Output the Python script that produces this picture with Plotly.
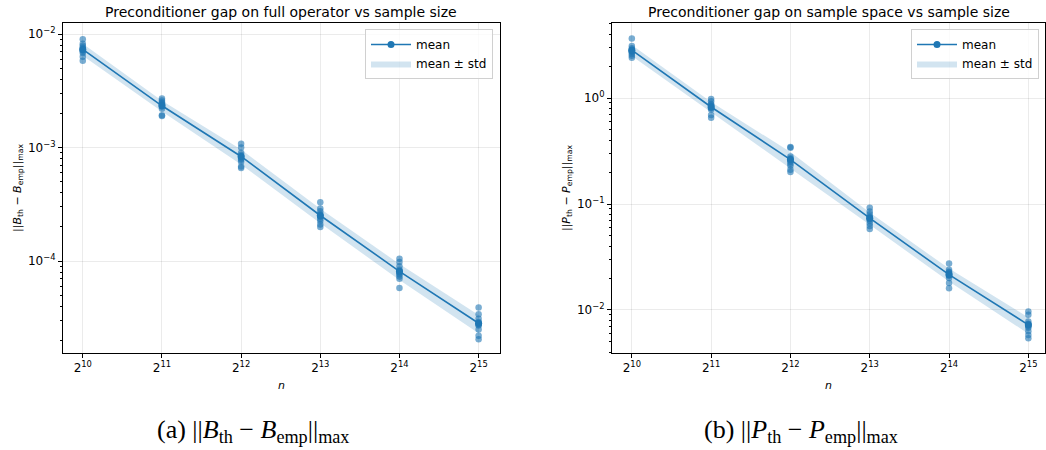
import numpy as np
import plotly.graph_objects as go

# sample sizes (powers of two)
exponents = [10, 11, 12, 13, 14, 15]
n_values = [2 ** e for e in exponents]
x_ticktext = [f"2<sup>{e}</sup>" for e in exponents]

# per-trial gaps ||B_th - B_emp||_max on the full operator
gap_full = [
    [9.0e-3, 8.2e-3, 7.9e-3, 7.6e-3, 7.4e-3, 7.2e-3, 7.0e-3, 6.8e-3, 6.3e-3, 5.8e-3],
    [2.7e-3, 2.6e-3, 2.5e-3, 2.45e-3, 2.4e-3, 2.35e-3, 2.3e-3, 2.2e-3, 1.92e-3, 1.9e-3],
    [1.08e-3, 1.0e-3, 9.0e-4, 8.6e-4, 8.3e-4, 8.0e-4, 7.8e-4, 7.5e-4, 6.8e-4, 6.6e-4],
    [3.3e-4, 2.9e-4, 2.75e-4, 2.6e-4, 2.5e-4, 2.45e-4, 2.35e-4, 2.25e-4, 2.1e-4, 2.0e-4],
    [1.05e-4, 9.8e-5, 9.0e-5, 8.4e-5, 8.0e-5, 7.8e-5, 7.6e-5, 7.3e-5, 7.0e-5, 5.8e-5],
    [3.9e-5, 3.4e-5, 3.1e-5, 2.9e-5, 2.8e-5, 2.75e-5, 2.7e-5, 2.5e-5, 2.2e-5, 2.05e-5],
]

# per-trial gaps ||P_th - P_emp||_max on the sample space
gap_sample = [
    [3.65, 3.1, 2.95, 2.85, 2.8, 2.75, 2.7, 2.6, 2.5, 2.4],
    [0.98, 0.93, 0.88, 0.86, 0.84, 0.82, 0.80, 0.78, 0.69, 0.65],
    [0.345, 0.34, 0.28, 0.27, 0.26, 0.25, 0.24, 0.23, 0.21, 0.20],
    [0.092, 0.085, 0.08, 0.076, 0.074, 0.072, 0.07, 0.066, 0.062, 0.058],
    [0.0275, 0.024, 0.023, 0.0225, 0.022, 0.0215, 0.021, 0.020, 0.018, 0.016],
    [0.0097, 0.009, 0.0078, 0.0074, 0.0072, 0.007, 0.0068, 0.0063, 0.0058, 0.0054],
]

full_yticks = [1e-4, 1e-3, 1e-2]
full_yticktext = ["10<sup>−4</sup>", "10<sup>−3</sup>", "10<sup>−2</sup>"]
sample_yticks = [1e-2, 1e-1, 1e0]
sample_yticktext = ["10<sup>−2</sup>", "10<sup>−1</sup>", "10<sup>0</sup>"]

BLUE = "#1f77b4"
BAND = "rgba(31,119,180,0.2)"
DOT = "rgba(31,119,180,0.6)"


def minor_log_ticks(lo_exp, hi_exp):
    return [m * 10.0 ** k for k in range(lo_exp, hi_exp + 1) for m in range(2, 10)]


fig = go.Figure()


def add_panel(gaps, xa, ya, legend_name):
    arr = np.array(gaps)
    mean = arr.mean(axis=1)
    std = arr.std(axis=1)
    # band: mean ± std
    fig.add_trace(go.Scatter(x=n_values, y=mean + std, mode="lines",
                             line=dict(width=0), showlegend=False,
                             xaxis=xa, yaxis=ya, hoverinfo="skip"))
    fig.add_trace(go.Scatter(x=n_values, y=mean - std, mode="lines",
                             line=dict(width=0), fill="tonexty", fillcolor=BAND,
                             name="mean ± std", legend=legend_name,
                             xaxis=xa, yaxis=ya))
    # individual trials
    xs = [n for n, row in zip(n_values, gaps) for _ in row]
    ys = [v for row in gaps for v in row]
    fig.add_trace(go.Scatter(x=xs, y=ys, mode="markers",
                             marker=dict(size=6.5, color=DOT, line=dict(width=0)),
                             showlegend=False, xaxis=xa, yaxis=ya))
    # mean curve
    fig.add_trace(go.Scatter(x=n_values, y=mean, mode="lines+markers",
                             line=dict(color=BLUE, width=1.6),
                             marker=dict(size=7, color=BLUE),
                             name="mean", legend=legend_name,
                             xaxis=xa, yaxis=ya))


add_panel(gap_full, "x", "y", "legend")
add_panel(gap_sample, "x2", "y2", "legend2")

axis_common = dict(
    showline=True, linecolor="black", linewidth=1, mirror=True,
    ticks="outside", ticklen=4, tickcolor="black",
    showgrid=True, gridcolor="rgba(0,0,0,0.08)", gridwidth=1,
    zeroline=False, tickfont=dict(family="DejaVu Sans", size=12, color="black"),
)
minor_common = dict(ticks="outside", ticklen=2.5, tickcolor="black", showgrid=False)

legend_common = dict(xanchor="right", yanchor="top",
                     bgcolor="rgba(255,255,255,0.8)", bordercolor="#d0d0d0", borderwidth=1,
                     font=dict(size=12), tracegroupgap=0, traceorder="reversed",
                     itemwidth=40)

fig.update_layout(
    width=1046, height=450,
    margin=dict(l=0, r=0, t=0, b=0),
    paper_bgcolor="white", plot_bgcolor="white",
    font=dict(family="DejaVu Sans", color="black"),
    xaxis=dict(domain=[63 / 1046, 500 / 1046], type="log",
               range=[9.75 * np.log10(2), 15.27 * np.log10(2)],
               tickvals=n_values, ticktext=x_ticktext, anchor="y",
               title=dict(text="<i>n</i>", font=dict(size=11), standoff=6),
               **axis_common),
    yaxis=dict(domain=[97 / 450, 427 / 450], type="log", range=[-4.81, -1.903],
               tickvals=full_yticks, ticktext=full_yticktext, anchor="x",
               minor=dict(tickvals=minor_log_ticks(-5, -3), **minor_common),
               title=dict(text="||<i>B</i><sub>th</sub> − <i>B</i><sub>emp</sub>||<sub>max</sub>",
                          font=dict(size=11), standoff=4),
               **axis_common),
    xaxis2=dict(domain=[612 / 1046, 1045 / 1046], type="log",
                range=[9.75 * np.log10(2), 15.21 * np.log10(2)],
                tickvals=n_values, ticktext=x_ticktext, anchor="y2",
                title=dict(text="<i>n</i>", font=dict(size=11), standoff=6),
                **axis_common),
    yaxis2=dict(domain=[97 / 450, 427 / 450], type="log", range=[-2.406, 0.708],
                tickvals=sample_yticks, ticktext=sample_yticktext, anchor="x2",
                minor=dict(tickvals=minor_log_ticks(-3, 0), **minor_common),
                title=dict(text="||<i>P</i><sub>th</sub> − <i>P</i><sub>emp</sub>||<sub>max</sub>",
                           font=dict(size=11), standoff=4),
                **axis_common),
    legend=dict(x=493 / 1046, y=1 - 29 / 450, **legend_common),
    legend2=dict(x=1039 / 1046, y=1 - 29 / 450, **legend_common),
    annotations=[
        dict(text="Preconditioner gap on full operator vs sample size",
             x=281 / 1046, y=1 - 12 / 450, xref="paper", yref="paper",
             xanchor="center", yanchor="middle",
             showarrow=False, font=dict(size=14)),
        dict(text="Preconditioner gap on sample space vs sample size",
             x=829 / 1046, y=1 - 12 / 450, xref="paper", yref="paper",
             xanchor="center", yanchor="middle",
             showarrow=False, font=dict(size=14)),
        dict(text="(a) ||<i>B</i><sub>th</sub> − <i>B</i><sub>emp</sub>||<sub>max</sub>",
             x=253 / 1046, y=1 - 431 / 450, xref="paper", yref="paper",
             xanchor="center", yanchor="middle",
             showarrow=False, font=dict(family="Liberation Serif", size=26)),
        dict(text="(b) ||<i>P</i><sub>th</sub> − <i>P</i><sub>emp</sub>||<sub>max</sub>",
             x=801 / 1046, y=1 - 431 / 450, xref="paper", yref="paper",
             xanchor="center", yanchor="middle",
             showarrow=False, font=dict(family="Liberation Serif", size=26)),
    ],
)

fig.write_html("out.html")
